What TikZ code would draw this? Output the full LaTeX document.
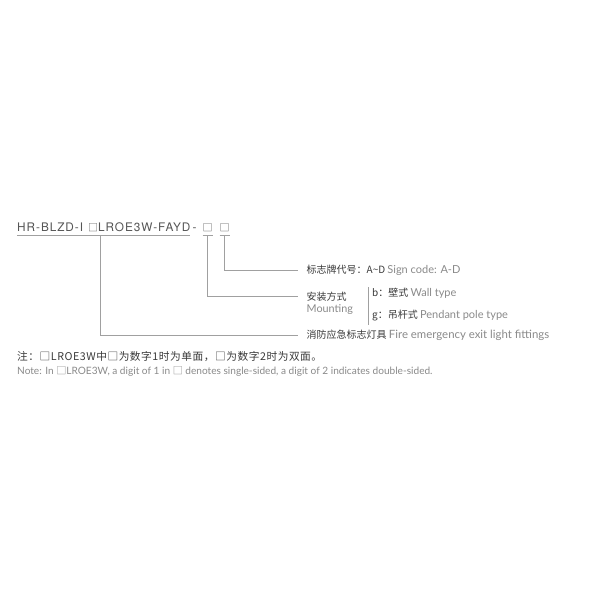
\documentclass[tikz,border=0pt]{standalone}
\usepackage{fontspec}
\setmainfont{Lato}
\newfontfamily\cjk{Noto Sans CJK SC}
\newfontfamily\cjkw[LetterSpace=5]{Noto Sans CJK SC}
\newfontfamily\heros[LetterSpace=8]{TeX Gyre Heros}
\definecolor{tgray}{HTML}{555555}
\definecolor{lgray}{HTML}{A0A0A0}
\definecolor{dtext}{HTML}{3A3A3A}
\definecolor{etext}{HTML}{8A8A8A}
\tikzset{
  tt/.style={anchor=base west, inner sep=0pt, text=tgray, font=\heros\fontsize{11.8}{12}\selectfont},
  bx/.style={anchor=base west, inner sep=0pt, text=tgray, font=\cjk\fontsize{10}{12}\selectfont},
  lab/.style={anchor=base west, inner sep=0pt, text=dtext, font=\cjk\fontsize{10}{12}\selectfont},
  conn/.style={draw=lgray, line width=0.7pt},
}
\newcommand{\en}[1]{{\fontspec{Lato}\fontsize{11}{12}\selectfont\color{etext}#1}}
\begin{document}
\begin{tikzpicture}[x=1pt,y=-1pt]
\useasboundingbox[fill=white] (0,0) rectangle (600,600);
% title
\node[tt] (t1) at (17,231.5) {HR-BLZD-I};
\node[bx] (b1) at (88,231.5) {□};
\node[tt] (t2) at (98,231.5) {LROE3W-FAYD};
\node[tt] (t3) at (192.5,231.5) {-};
\node[bx] (b2) at (202.5,231.5) {□};
\node[bx] (b3) at (219.5,231.5) {□};
\coordinate (u) at (0,235.5);
\coordinate (v) at (0,236);
\draw[conn] (17,235.5) -- (190,235.5);
\draw[conn] (b2.west |- u) -- (b2.east |- u);
\draw[conn] (b3.west |- u) -- (b3.east |- u);
% labels
\node[lab] (l1) at (306.5,273.5) {标志牌代号：A\textasciitilde D \en{Sign code: A-D}};
\node[lab] (l2) at (306.5,300) {安装方式};
\node[lab, font=\fontsize{10.8}{12}\selectfont, text=etext] (l2e) at (306.5,312) {Mounting};
\node[lab] (l3) at (372,296.5) {b：壁式 \en{Wall type}};
\node[lab] (l4) at (372,318) {g：吊杆式 \en{Pendant pole type}};
\node[lab] (l5) at (306.5,338.5) {消防应急标志灯具 \en{\fontsize{11.4}{12}\selectfont Fire emergency exit light fittings}};
\coordinate (bt) at (368.5,287);
\coordinate (bb) at (368.5,325);
\draw[conn] (bt) -- (bb);
% connectors
\coordinate (e1) at (297.5,270);
\coordinate (e2) at (297.5,296.5);
\coordinate (e3) at (297.5,335.5);
\coordinate (c1) at (100.7,236);
\draw[conn] (b3 |- v) |- (e1);
\draw[conn] (b2 |- v) |- (e2);
\draw[conn] (c1) |- (e3);
% notes
\node[lab, font=\cjkw\fontsize{10.7}{12}\selectfont] (n1) at (17,360) {注：□LROE3W中□为数字1时为单面，□为数字2时为双面。};
\node[lab, font=\fontsize{10.1}{12}\selectfont, text=etext] (n2) at (17,374) {Note: In {\cjk □}LROE3W, a digit of 1 in {\cjk □} denotes single-sided, a digit of 2 indicates double-sided.};
\end{tikzpicture}
\end{document}
